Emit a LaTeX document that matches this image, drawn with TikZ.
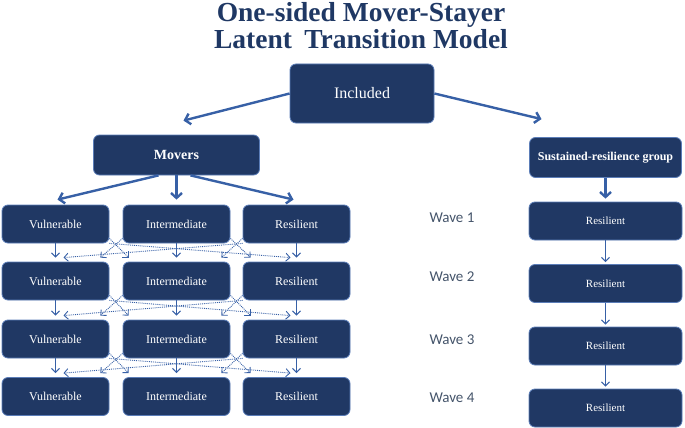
\documentclass[tikz,border=0pt]{standalone}
\usepackage{fontspec}
\setmainfont{Liberation Serif}
\newfontfamily\wavefont{Carlito}
\usepackage{tikz}
\usetikzlibrary{arrows.meta,positioning,backgrounds}
\definecolor{navy}{HTML}{203864}
\definecolor{edgeblue}{HTML}{5B7DB8}
\definecolor{arrblue}{HTML}{3760A6}
\definecolor{titleblue}{HTML}{1F3864}
\definecolor{wavegray}{HTML}{44546A}

\begin{document}
\begin{tikzpicture}[x=1pt,y=-1pt,
  box/.style={draw=edgeblue,line width=0.8pt,fill=navy,text=white,rounded corners=6pt,align=center,inner sep=0pt},
  statebox/.style={box,minimum width=107pt,minimum height=38pt,font=\fontsize{12}{14}\selectfont},
  stayerbox/.style={box,minimum width=153pt,minimum height=38pt,font=\fontsize{11}{13}\selectfont},
  title/.style={anchor=base,inner sep=0pt,text=titleblue,font=\fontsize{27.5}{30}\selectfont\bfseries},
  wave/.style={anchor=west,text=wavegray,font=\wavefont\fontsize{15}{18}\selectfont},
  bigarr/.style={-{Straight Barb[length=5pt,width=11pt]},line width=2.4pt,draw=arrblue},
  arr/.style={-{Straight Barb[length=4pt,width=8pt]},line width=1.1pt,draw=arrblue},
  dotarr/.style={arr,line width=0.9pt,densely dotted}
]
\useasboundingbox (0,0) rectangle (685,428);
\node[title] (t1) at (361,22) {One-sided Mover-Stayer};
\node[title] (t2) at (361,48.5) {Latent\hspace{0.45em}Transition Model};
\node[box,minimum width=144pt,minimum height=59pt,font=\fontsize{16}{18}\selectfont] (inc) at (362,93.5) {Included};
\node[box,minimum width=166pt,minimum height=40pt,font=\fontsize{14}{16}\selectfont\bfseries] (mov) at (176.5,155) {Movers};
\node[box,minimum width=152pt,minimum height=40pt,font=\fontsize{12}{14}\selectfont\bfseries] (sus) at (605.5,157.5) {Sustained-resilience group};
\draw[bigarr] (inc.west) -- ([xshift=7pt,yshift=14pt]mov.north);
\draw[bigarr] (inc.east) -- ([xshift=-64pt,yshift=18pt]sus.north);
\node[statebox] (v1) at (55.5,224) {Vulnerable};
\node[statebox] (i1) at (176.5,224) {Intermediate};
\node[statebox] (r1) at (296.5,224) {Resilient};
\node[statebox] (v2) at (55.5,281) {Vulnerable};
\node[statebox] (i2) at (176.5,281) {Intermediate};
\node[statebox] (r2) at (296.5,281) {Resilient};
\node[statebox] (v3) at (55.5,339) {Vulnerable};
\node[statebox] (i3) at (176.5,339) {Intermediate};
\node[statebox] (r3) at (296.5,339) {Resilient};
\node[statebox] (v4) at (55.5,396.5) {Vulnerable};
\node[statebox] (i4) at (176.5,396.5) {Intermediate};
\node[statebox] (r4) at (296.5,396.5) {Resilient};
\draw[bigarr] ([xshift=-18pt]mov.south) -- ([xshift=2pt,yshift=5pt]v1.north);
\draw[bigarr] (mov.south) -- ([yshift=5pt]i1.north);
\draw[bigarr] ([xshift=14pt]mov.south) -- ([xshift=-3pt,yshift=5pt]r1.north);
\draw[arr] (v1.south) -- ([yshift=4pt]v2.north); \draw[arr] (i1.south) -- ([yshift=4pt]i2.north); \draw[arr] (r1.south) -- ([yshift=4pt]r2.north);
\draw[arr] (v2.south) -- ([yshift=4pt]v3.north); \draw[arr] (i2.south) -- ([yshift=4pt]i3.north); \draw[arr] (r2.south) -- ([yshift=4pt]r3.north);
\draw[arr] (v3.south) -- ([yshift=4pt]v4.north); \draw[arr] (i3.south) -- ([yshift=4pt]i4.north); \draw[arr] (r3.south) -- ([yshift=4pt]r4.north);
\begin{scope}[on background layer]
\draw[dotarr] ([yshift=5pt]v1.south east) -- ([xshift=6pt,yshift=4pt]i2.north west);
\draw[dotarr] (v1.south east) -- ([xshift=-6pt,yshift=4pt]r2.north);
\draw[dotarr] ([yshift=5pt]i1.south west) -- ([xshift=-9pt,yshift=4pt]v2.north east);
\draw[dotarr] ([yshift=5pt]i1.south east) -- ([xshift=8pt,yshift=4pt]r2.north west);
\draw[dotarr] ([yshift=5pt]r1.south west) -- ([xshift=-9pt,yshift=4pt]i2.north east);
\draw[dotarr] (r1.south west) -- ([xshift=8pt,yshift=4pt]v2.north);
\draw[dotarr] ([yshift=5pt]v2.south east) -- ([xshift=6pt,yshift=4pt]i3.north west);
\draw[dotarr] (v2.south east) -- ([xshift=-6pt,yshift=4pt]r3.north);
\draw[dotarr] ([yshift=5pt]i2.south west) -- ([xshift=-9pt,yshift=4pt]v3.north east);
\draw[dotarr] ([yshift=5pt]i2.south east) -- ([xshift=8pt,yshift=4pt]r3.north west);
\draw[dotarr] ([yshift=5pt]r2.south west) -- ([xshift=-9pt,yshift=4pt]i3.north east);
\draw[dotarr] (r2.south west) -- ([xshift=8pt,yshift=4pt]v3.north);
\draw[dotarr] ([yshift=5pt]v3.south east) -- ([xshift=6pt,yshift=4pt]i4.north west);
\draw[dotarr] (v3.south east) -- ([xshift=-6pt,yshift=4pt]r4.north);
\draw[dotarr] ([yshift=5pt]i3.south west) -- ([xshift=-9pt,yshift=4pt]v4.north east);
\draw[dotarr] ([yshift=5pt]i3.south east) -- ([xshift=8pt,yshift=4pt]r4.north west);
\draw[dotarr] ([yshift=5pt]r3.south west) -- ([xshift=-9pt,yshift=4pt]i4.north east);
\draw[dotarr] (r3.south west) -- ([xshift=8pt,yshift=4pt]v4.north);
\end{scope}
\node[wave] (w1) at (426,218) {Wave 1};
\node[wave] (w2) at (426,277) {Wave 2};
\node[wave] (w3) at (426,340) {Wave 3};
\node[wave] (w4) at (426,398) {Wave 4};
\node[stayerbox] (s1) at (605.5,221) {Resilient};
\node[stayerbox] (s2) at (605.5,283.5) {Resilient};
\node[stayerbox] (s3) at (605.5,346) {Resilient};
\node[stayerbox] (s4) at (605.5,408) {Resilient};
\draw[bigarr] (sus.south) -- ([yshift=3pt]s1.north);
\draw[arr] (s1.south) -- ([yshift=2pt]s2.north); \draw[arr] (s2.south) -- ([yshift=2pt]s3.north); \draw[arr] (s3.south) -- ([yshift=2pt]s4.north);
\end{tikzpicture}
\end{document}
